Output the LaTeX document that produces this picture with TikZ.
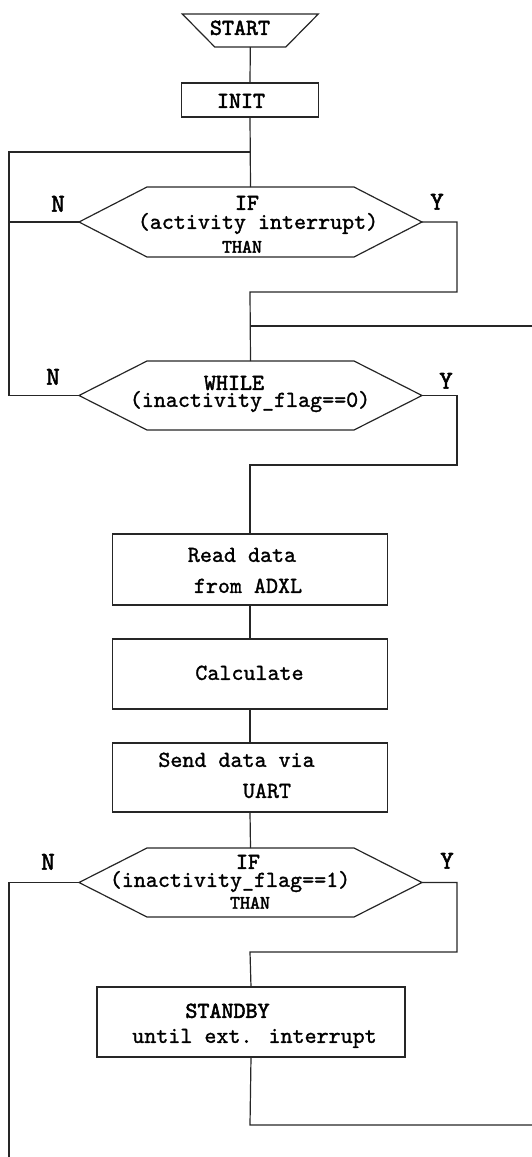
\documentclass[tikz,border=0pt]{standalone}
\usepackage{fontspec}
\newfontfamily\cour{lmmono10-regular.otf}[FakeBold=1.3]
\newfontfamily\courbold{lmmono10-regular.otf}[FakeBold=2.2]
\begin{document}
\begin{tikzpicture}[x=1pt,y=-1pt,
  wire/.style={line width=1.2pt, black!85},
  shapebox/.style={draw=none, inner sep=0pt, outer sep=0pt},
  procbox/.style={shapebox, draw=black!85, line width=1.2pt},
  decision/.style={shapebox, minimum width=343pt, minimum height=70pt},
  txt/.style={inner sep=0pt, text height=13.7pt, text depth=0pt,
    font=\cour\fontsize{22.9}{26}\selectfont},
  btxt/.style={txt, font=\courbold\fontsize{22.9}{26}\selectfont},
  small/.style={txt, text height=11.4pt, font=\courbold\fontsize{19}{22}\selectfont},
  yn/.style={txt, text height=15.4pt, font=\courbold\fontsize{25.7}{28}\selectfont}]
\useasboundingbox (0,0) rectangle (532,1157);

% hexagonal decision outline around a named node
\newcommand\hexoutline[1]{%
  \draw[wire] ([xshift=68pt]#1.north west) -- ([xshift=-68pt]#1.north east)
    -- (#1.east) -- ([xshift=-68pt]#1.south east)
    -- ([xshift=68pt]#1.south west) -- (#1.west) -- cycle;}

% ---- shapes ----
\node[shapebox, minimum width=71pt, minimum height=33pt] (start) at (250.3,30.5) {};
\draw[wire] ([xshift=-32.5pt]start.north west) -- ([xshift=32.5pt]start.north east)
  -- (start.south east) -- (start.south west) -- cycle;
\node[procbox, minimum width=137pt, minimum height=34pt] (init) at (250,100) {};
\node[decision] (if1) at (250.5,222) {};
\node[decision, minimum height=69pt] (while) at (250.5,395.5) {};
\node[procbox, minimum width=275pt, minimum height=71pt] (read) at (250,569.5) {};
\node[procbox, minimum width=275pt, minimum height=70pt] (calc) at (250,674) {};
\node[procbox, minimum width=275pt, minimum height=69pt] (send) at (250,777.5) {};
\node[decision, minimum height=69pt] (if2) at (250.5,882.5) {};
\node[procbox, minimum width=308pt, minimum height=70pt] (stby) at (251,1022) {};
\hexoutline{if1}
\hexoutline{while}
\hexoutline{if2}

% ---- texts ----
\node[btxt] (tstart) at (240,28) {START};
\node[btxt] (tinit) at (241,101) {INIT};
\node[btxt] (tif1a) at (247,203) {IF};
\node[txt] (tif1b) at (258,222) {(activity interrupt)};
\node[small] (tif1c) at (242,247) {THAN};
\node[yn] (n1) at (58,204) {N};
\node[yn] (y1) at (437,202) {Y};
\node[btxt] (twa) at (234,383) {WHILE};
\node[txt] (twb) at (250,400) {(inactivity\_flag==0)};
\node[yn] (n2) at (53,377) {N};
\node[yn] (y2) at (446,381) {Y};
\node[txt] (treada) at (242,555) {Read data};
\node[txt] (treadb) at (248,586) {from ADXL};
\node[txt] (tcalc) at (249.5,673) {Calculate};
\node[txt] (tsenda) at (236.5,760) {Send data via};
\node[txt] (tsendb) at (267,791) {UART};
\node[btxt] (tif2a) at (248,862) {IF};
\node[txt] (tif2b) at (230,880) {(inactivity\_flag==1)};
\node[small] (tif2c) at (250,903) {THAN};
\node[yn] (n3) at (48,862) {N};
\node[yn] (y3) at (447,861) {Y};
\node[btxt] (tstbya) at (227.5,1011) {STANDBY};
\node[txt] (tstbyb) at (254.5,1036) {until ext. interrupt};

% ---- routing points ----
\coordinate (j1) at (250,152);
\coordinate (l1) at (9,152);
\coordinate (l2) at (9,395.5);
\coordinate (l3) at (9,222);
\coordinate (r1) at (457,222);
\coordinate (r1b) at (457,292);
\coordinate (m1) at (250,292);
\coordinate (j2) at (250,326);
\coordinate (e1) at (532,326);
\coordinate (r2) at (457,395.5);
\coordinate (r2b) at (457,465);
\coordinate (m2) at (250,465);
\coordinate (l4) at (9,882.5);
\coordinate (l5) at (9,1157);
\coordinate (r3) at (457,882.5);
\coordinate (r3b) at (457,952);
\coordinate (m3) at (250,952);
\coordinate (b1) at (250,1125);
\coordinate (e2) at (532,1125);

% ---- connectors ----
\draw[wire] (start.south) -- (init.north);
\draw[wire] (init.south) -- (if1.north);
\draw[wire] (j1) -- (l1) -- (l2) -- (while.west);
\draw[wire] (if1.west) -- (l3);
\draw[wire] (if1.east) -- (r1) -- (r1b) -- (m1) -- (while.north);
\draw[wire] (j2) -- (e1);
\draw[wire] (while.east) -- (r2) -- (r2b) -- (m2) -- (read.north);
\draw[wire] (read.south) -- (calc.north);
\draw[wire] (calc.south) -- (send.north);
\draw[wire] (send.south) -- (if2.north);
\draw[wire] (if2.west) -- (l4) -- (l5);
\draw[wire] (if2.east) -- (r3) -- (r3b) -- (m3) -- (stby.north);
\draw[wire] (stby.south) -- (b1) -- (e2);
\end{tikzpicture}
\end{document}
